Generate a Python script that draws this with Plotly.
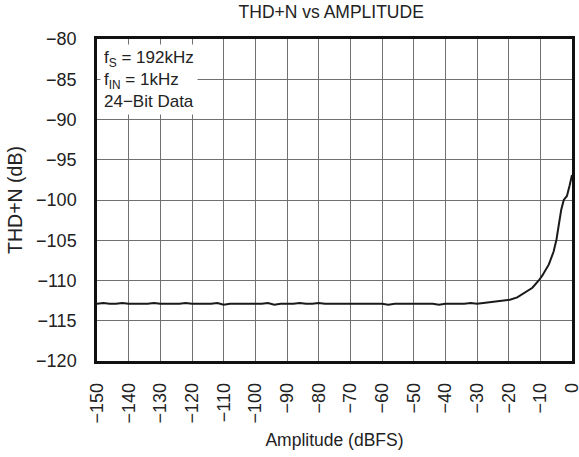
import plotly.graph_objects as go

# Amplitude (dBFS) and THD+N (dB)
amplitude = [-150, -148, -146, -144, -142, -140, -138, -136, -134, -132, -130,
             -128, -126, -124, -122, -120, -118, -116, -114, -112, -110,
             -108, -106, -104, -102, -100, -98, -96, -94, -92, -90,
             -88, -86, -84, -82, -80, -78, -76, -74, -72, -70,
             -68, -66, -64, -62, -60, -58, -56, -54, -52, -50,
             -48, -46, -44, -42, -40, -38, -36, -34, -32, -30,
             -28, -25.6, -22.5, -19.6, -17.3, -15.2, -12.5, -10.5, -9.4,
             -7.3, -5.8, -4.9, -4.2, -3.4, -2.6, -1.6, -0.75, 0]
thdn = [-112.9, -112.8, -112.9, -112.9, -112.8, -112.9, -112.9, -112.9, -112.9, -112.8, -112.9,
        -112.9, -112.9, -112.9, -112.8, -112.9, -112.9, -112.9, -112.9, -112.8, -113.0,
        -112.9, -112.9, -112.9, -112.9, -112.9, -112.9, -112.8, -113.0, -112.9, -112.9,
        -112.9, -112.8, -112.9, -112.9, -112.8, -112.9, -112.9, -112.9, -112.9, -112.9,
        -112.9, -112.9, -112.9, -112.9, -112.9, -113.0, -112.9, -112.9, -112.9, -112.9,
        -112.9, -112.9, -112.9, -113.0, -112.9, -112.9, -112.9, -112.9, -112.8, -112.9,
        -112.8, -112.7, -112.5, -112.4, -112.1, -111.6, -110.9, -110.0, -109.4,
        -108.0, -106.4, -104.9, -102.9, -101.2, -100.0, -99.5, -98.2, -96.9]

x_ticks = list(range(-150, 1, 10))
y_ticks = list(range(-120, -79, 5))

FONT = "Liberation Sans, Arial, sans-serif"
INK = "#222222"

fig = go.Figure()
fig.add_trace(go.Scatter(x=amplitude, y=thdn, mode="lines",
                         line=dict(color="#1a1a1a", width=2), showlegend=False))

fig.add_annotation(
    x=0, y=1, xref="paper", yref="paper", xanchor="left", yanchor="top",
    text="f<sub>S</sub> = 192kHz<br>f<sub>IN</sub> = 1kHz<br>24\u2212Bit Data",
    showarrow=False, align="left", bgcolor="white",
    font=dict(family=FONT, size=17, color=INK),
    borderpad=3, xshift=3, yshift=-5)

fig.update_layout(
    width=579, height=457,
    margin=dict(l=97, r=7, t=39, b=96, autoexpand=False),
    paper_bgcolor="white", plot_bgcolor="white",
    title=dict(text="THD+N vs AMPLITUDE", x=0.572, xanchor="center",
               y=0.9737, yanchor="middle",
               font=dict(family=FONT, size=17.5, color=INK)),
    font=dict(family=FONT, size=18, color=INK),
)
fig.update_xaxes(range=[-150, 0.0001], tickvals=x_ticks, tickangle=-90,
                 showgrid=True, gridcolor="#707070", gridwidth=1,
                 showline=True, linecolor="#111", linewidth=2.5, mirror=True,
                 ticks="", zeroline=False, automargin=False, ticklabelstandoff=12,
                 ticklabeloverflow="allow",
                 tickfont=dict(family=FONT, size=18, color=INK),
                 title=dict(text="Amplitude (dBFS)", font=dict(family=FONT, size=17.5, color=INK),
                            standoff=12))
fig.update_yaxes(range=[-120, -80], tickvals=y_ticks,
                 showgrid=True, gridcolor="#707070", gridwidth=1,
                 showline=True, linecolor="#111", linewidth=2.5, mirror=True,
                 ticks="", zeroline=False, automargin=False, ticklabelstandoff=14,
                 tickfont=dict(family=FONT, size=18, color=INK),
                 title=dict(text="THD+N (dB)", font=dict(family=FONT, size=19.5, color=INK),
                            standoff=9))

fig.write_html("out.html", config={"displayModeBar": False},
               post_script="document.body.style.margin='0';")
